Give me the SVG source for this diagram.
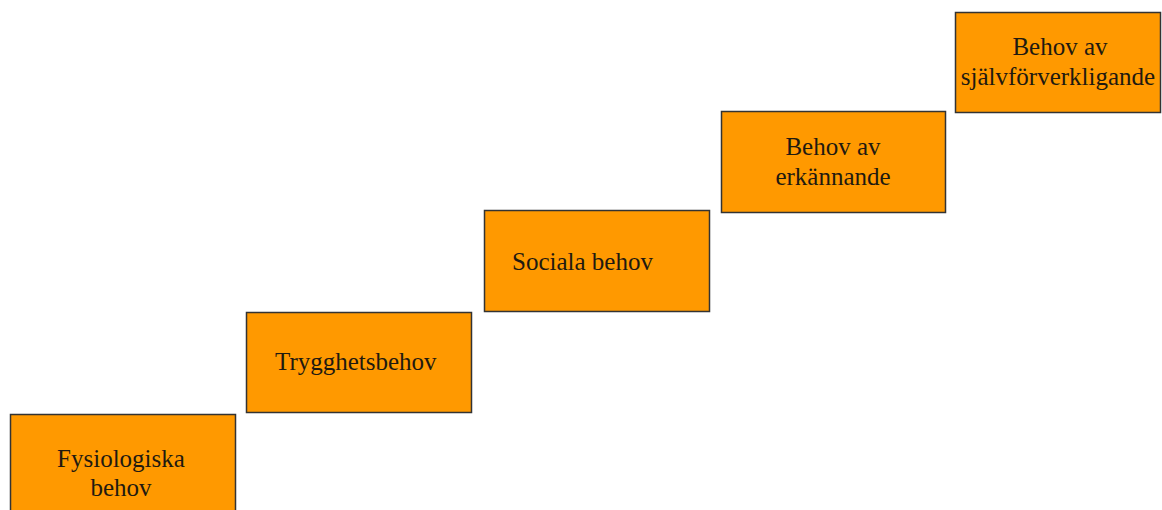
<svg xmlns="http://www.w3.org/2000/svg" width="1162" height="510" viewBox="0 0 1162 510">
<style>
.box{fill:#FF9900;stroke:#333;stroke-width:1.5}
.t{font-family:"Liberation Serif","Times New Roman",serif;font-size:25px;fill:#1f1a10}
.c{text-anchor:middle}
</style>
<rect width="1162" height="510" fill="#fff"/>
<g id="node-fysiologiska">
<rect class="box" x="10.5" y="414.5" width="225" height="110"/>
<text class="t c" x="121" y="467">Fysiologiska</text>
<text class="t c" x="121" y="496">behov</text>
</g>
<g id="node-trygghet">
<rect class="box" x="246.5" y="312.5" width="225" height="100"/>
<text class="t" x="275" y="370">Trygghetsbehov</text>
</g>
<g id="node-sociala">
<rect class="box" x="484.5" y="210.5" width="225" height="101"/>
<text class="t" x="512" y="270">Sociala behov</text>
</g>
<g id="node-erkannande">
<rect class="box" x="721.5" y="111.5" width="224" height="101"/>
<text class="t c" x="833" y="155">Behov av</text>
<text class="t c" x="833" y="185">erkännande</text>
</g>
<g id="node-sjalvforverkligande">
<rect class="box" x="955.5" y="12.5" width="205" height="100"/>
<text class="t c" x="1060" y="55">Behov av</text>
<text class="t c" x="1058" y="85">självförverkligande</text>
</g>
<g id="connectors"></g>
</svg>
